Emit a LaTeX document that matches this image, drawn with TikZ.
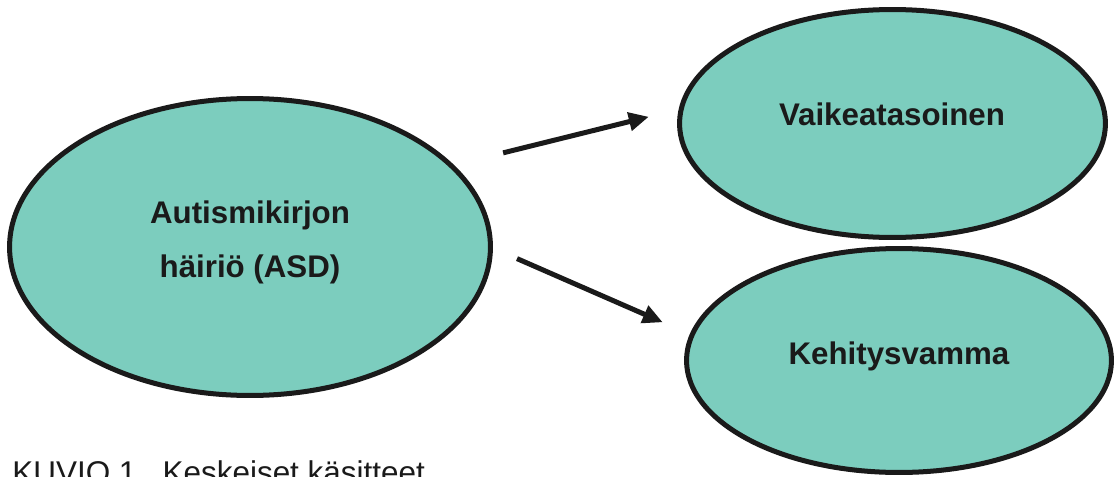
\documentclass[tikz,border=0pt]{standalone}
\usepackage{fontspec}
\setmainfont{Liberation Sans}
\usetikzlibrary{arrows.meta,shapes.geometric}
\definecolor{Ink}{HTML}{1A1A1A}
\definecolor{Mint}{HTML}{7CCDBE}
\tikzset{
  bubble/.style={ellipse,draw=Ink,fill=Mint,line width=2.85pt,outer sep=0pt,inner sep=0pt},
  word/.style={font=\fontsize{17.8}{30.7}\selectfont\bfseries,text=Ink,align=center,inner sep=0pt},
  link/.style={draw=Ink,line width=2.85pt,-{Triangle[length=4mm,width=3.6mm]}}
}
\begin{document}
\begin{tikzpicture}[x=0.02cm,y=-0.02cm]
\useasboundingbox (0,0) rectangle (1117,477);
\node[bubble,minimum width=9.62cm,minimum height=5.94cm] (asd) at (250,247) {};
\node[bubble,minimum width=8.52cm,minimum height=4.56cm] (vaikea) at (892.5,123.5) {};
\node[bubble,minimum width=8.50cm,minimum height=4.48cm] (kehitys) at (899,360.5) {};
\node[word] (asdtext) at (250,242) {Autismikirjon\\häiriö (ASD)};
\node[word] (vaikeatext) at (892,114) {Vaikeatasoinen};
\node[word] (kehitystext) at (899,356) {Kehitysvamma};
\draw[link,shorten <=1.07cm,shorten >=0.67cm] (asd.22.2) -- (vaikea.176.7);
\draw[link,shorten <=0.58cm,shorten >=0.64cm] (asd.-0.1) -- (kehitys.173.2);
\node[anchor=base west,font=\fontsize{17.9}{20}\selectfont,text=Ink,inner sep=0pt] (kuvio) at (12,483) {KUVIO 1.\ \ Keskeiset käsitteet};
\end{tikzpicture}
\end{document}
